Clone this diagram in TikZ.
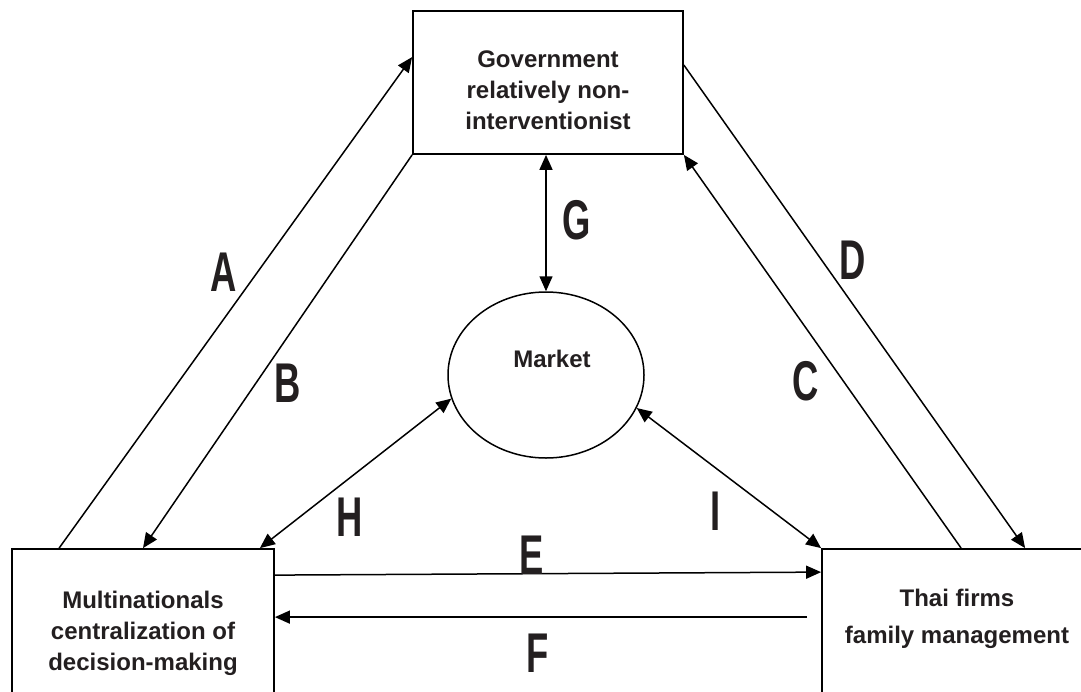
\documentclass[tikz,border=0pt]{standalone}
\usepackage{fontspec}
\usepackage{graphicx}
\setmainfont{Liberation Sans}
\usetikzlibrary{arrows.meta,calc,shapes.geometric}
\definecolor{ink}{HTML}{231F20}
% condensed capital used for the connector letters
\newcommand{\narrowtag}[1]{\scalebox{0.65}[1]{#1}}

\begin{document}
\begin{tikzpicture}[x=1pt,y=-1pt,
  box/.style={draw=black, line width=1.8pt, rectangle, inner sep=0pt},
  boxtext/.style={font=\fontsize{24}{31}\selectfont\bfseries, text=ink, align=center, inner sep=0pt},
  oval/.style={draw=black, line width=1.5pt, ellipse, inner sep=0pt},
  conn/.style={line width=1.5pt, -{Triangle[length=15pt,width=13pt]}},
  twoway/.style={line width=1.5pt, {Triangle[length=15pt,width=13pt]}-{Triangle[length=15pt,width=13pt]}},
  tag/.style={font=\fontsize{56}{56}\selectfont\bfseries, text=ink, inner sep=0pt}]

\useasboundingbox (0,0) rectangle (1081,691);
\clip (0,0) rectangle (1081,691);
\fill[white] (0,0) rectangle (1081,691);

% the three actors and the market
\node[box, minimum width=270, minimum height=143,
      label={[boxtext, yshift=-8pt]center:{Government\\relatively non-\\interventionist}}]
  (gov) at (548,82.5) {};
\node[box, minimum width=262, minimum height=168,
      label={[boxtext]center:{Multinationals\\centralization of\\decision-making}}]
  (mnc) at (143,633) {};
\node[box, minimum width=270, minimum height=180,
      label={[boxtext, yshift=20.5pt]center:{Thai firms\\[6pt]family management}}]
  (thai) at (957,639) {};
\node[oval, minimum width=196, minimum height=166,
      label={[boxtext, xshift=6pt, yshift=16.5pt]center:Market}]
  (market) at (546,375) {};

% relations between the actors
\draw[conn] ($(mnc.north west)+(48,0)$) -- ($(gov.north west)+(0,47)$);
\draw[conn] (gov.south west) -- (mnc.north);
\draw[conn] ($(thai.north west)+(140,0)$) -- (gov.south east);
\draw[conn] ($(gov.north east)+(0,55)$) -- ($(thai.north west)+(204,0)$);
\draw[conn] ($(mnc.north east)+(0,27)$) -- ($(thai.north west)+(0,24)$);
\coordinate (fstart) at ($(thai.north west)+(-14,69)$);
\draw[conn] (fstart) -- ($(mnc.north east)+(0,69)$);
\draw[twoway] (gov.south -| market.north) -- (market.north);
\draw[twoway] (market.194) -- ($(mnc.north east)+(-15,0)$);
\draw[twoway] (market.-20) -- (thai.north west);

% connector letters
\node[tag] (tA) at (224,272) {\narrowtag{A}};
\node[tag] (tB) at (288,383) {\narrowtag{B}};
\node[tag] (tC) at (806,381) {\narrowtag{C}};
\node[tag] (tD) at (853,260) {\narrowtag{D}};
\node[tag] (tE) at (532,555) {\narrowtag{E}};
\node[tag] (tF) at (538,653) {\narrowtag{F}};
\node[tag] (tG) at (577,220) {\narrowtag{G}};
\node[tag] (tH) at (350,517) {\narrowtag{H}};
\node[tag] (tI) at (716,511) {\narrowtag{I}};
\end{tikzpicture}
\end{document}
